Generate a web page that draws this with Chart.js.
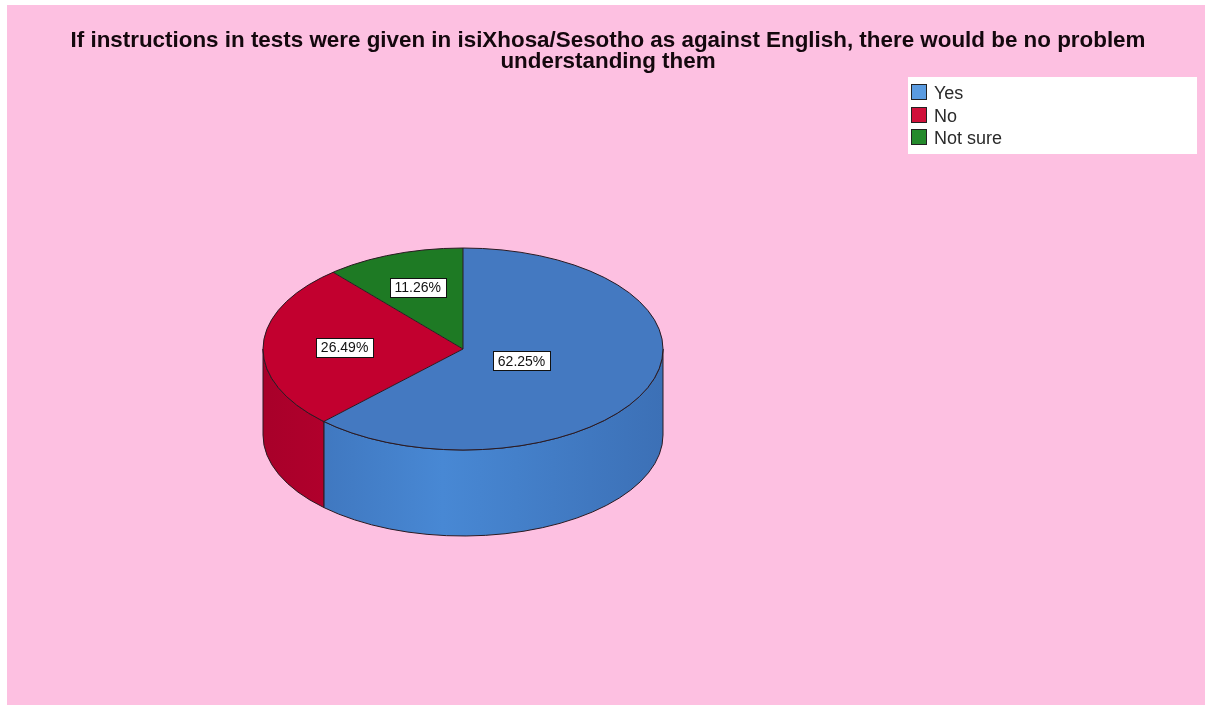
<!DOCTYPE html>
<html>
<head>
<meta charset="utf-8">
<title>Test instructions in isiXhosa/Sesotho</title>
<script src="https://cdn.jsdelivr.net/npm/chart.js@4.4.1/dist/chart.umd.min.js"></script>
<style>
  html, body { margin: 0; padding: 0; background: #ffffff; }
  canvas { display: block; }
</style>
</head>
<body>
<canvas id="chart" width="1205" height="705"></canvas>
<script>
// Survey answers (respondent counts)
const categories = ['Yes', 'No', 'Not sure'];
const counts = [94, 40, 17];
const titleLines = [
  'If instructions in tests were given in isiXhosa/Sesotho as against English, there would be no problem',
  'understanding them'
];

// Slice colours: top face, side face (dark / light), legend swatch
const topColors = ['#4479C1', '#C2002F', '#1E7A24'];
const sideDark = ['#3C70B6', '#A8002A', '#17651D'];
const sideLight = ['#4888D4', '#C0002F', '#1F8027'];
const swatchColors = ['#5A9BE0', '#D0103A', '#248A2C'];

const PAGE_BG = '#FDC0E1';
const TILT = 101 / 200;   // vertical squash of the pie top (ellipse ry / rx)
const DEPTH = 86;         // thickness of the pie, px
const FONT = '"Liberation Sans", Arial, sans-serif';

const total = counts.reduce((a, b) => a + b, 0);
const pctText = v => (v / total * 100).toFixed(2) + '%';

function pieGeometry(chart) {
  const els = chart.getDatasetMeta(0).data;
  const { x, y, outerRadius } = els[0].getProps(['x', 'y', 'outerRadius'], true);
  return { els, cx: x, cy: y, rx: outerRadius, ry: outerRadius * TILT };
}

const pageBackground = {
  id: 'pageBackground',
  beforeDraw(chart) {
    const ctx = chart.ctx;
    ctx.save();
    ctx.fillStyle = PAGE_BG;
    ctx.fillRect(7, 5, chart.width - 7, chart.height - 5);
    ctx.restore();
  }
};

// Extruded pie: draws the visible side walls, squashes the library's arcs into an ellipse,
// then adds outlines and percentage labels.
const pie3d = {
  id: 'pie3d',
  beforeDatasetsDraw(chart) {
    const ctx = chart.ctx;
    const { els, cx, cy, rx, ry } = pieGeometry(chart);
    ctx.save();
    ctx.lineWidth = 1;
    ctx.strokeStyle = '#2a1a22';
    els.forEach((el, i) => {
      const { startAngle, endAngle } = el.getProps(['startAngle', 'endAngle'], true);
      for (const off of [-2 * Math.PI, 0, 2 * Math.PI]) {
        const a1 = Math.max(startAngle, off);
        const a2 = Math.min(endAngle, off + Math.PI);
        if (a2 <= a1) continue;
        const g = ctx.createLinearGradient(cx - rx, 0, cx + rx, 0);
        g.addColorStop(0, sideDark[i]);
        g.addColorStop(0.45, sideLight[i]);
        g.addColorStop(1, sideDark[i]);
        ctx.beginPath();
        ctx.ellipse(cx, cy, rx, ry, 0, a1, a2, false);
        ctx.ellipse(cx, cy + DEPTH, rx, ry, 0, a2, a1, true);
        ctx.closePath();
        ctx.fillStyle = g;
        ctx.fill();
        ctx.stroke();
      }
    });
    ctx.restore();
    ctx.save();
    ctx.translate(cx, cy);
    ctx.scale(1, TILT);
    ctx.translate(-cx, -cy);
  },
  afterDatasetsDraw(chart) {
    const ctx = chart.ctx;
    ctx.restore();
    const { els, cx, cy, rx, ry } = pieGeometry(chart);
    ctx.save();
    ctx.lineWidth = 1;
    ctx.strokeStyle = '#2a1a22';
    ctx.beginPath();
    ctx.ellipse(cx, cy, rx, ry, 0, 0, Math.PI * 2);
    ctx.stroke();
    els.forEach(el => {
      const a = el.getProps(['startAngle'], true).startAngle;
      ctx.beginPath();
      ctx.moveTo(cx, cy);
      ctx.lineTo(cx + rx * Math.cos(a), cy + ry * Math.sin(a));
      ctx.stroke();
    });

    // value labels at each sector's centroid
    ctx.font = '14px ' + FONT;
    ctx.textAlign = 'center';
    ctx.textBaseline = 'middle';
    els.forEach((el, i) => {
      const { startAngle, endAngle } = el.getProps(['startAngle', 'endAngle'], true);
      const sweep = endAngle - startAngle;
      const mid = (startAngle + endAngle) / 2;
      const d = 4 * rx * Math.sin(sweep / 2) / (3 * sweep);
      const lx = cx + d * Math.cos(mid);
      const ly = cy + d * Math.sin(mid) * TILT;
      const txt = pctText(counts[i]);
      const w = ctx.measureText(txt).width + 10;
      const h = 19;
      ctx.fillStyle = '#ffffff';
      ctx.fillRect(Math.round(lx - w / 2) + 0.5, Math.round(ly - h / 2) + 0.5, Math.round(w), h);
      ctx.strokeStyle = '#111111';
      ctx.strokeRect(Math.round(lx - w / 2) + 0.5, Math.round(ly - h / 2) + 0.5, Math.round(w), h);
      ctx.fillStyle = '#111111';
      ctx.fillText(txt, lx, ly + 1);
    });
    ctx.restore();
  }
};

const titleAndLegend = {
  id: 'titleAndLegend',
  afterDraw(chart) {
    const ctx = chart.ctx;
    ctx.save();
    // title
    ctx.fillStyle = '#14080e';
    ctx.font = 'bold 22.4px ' + FONT;
    ctx.textAlign = 'center';
    ctx.textBaseline = 'alphabetic';
    titleLines.forEach((line, i) => ctx.fillText(line, 608, 47 + i * 21));

    // legend
    ctx.fillStyle = '#ffffff';
    ctx.fillRect(908, 77, 289, 77);
    ctx.font = '18px ' + FONT;
    ctx.textAlign = 'left';
    categories.forEach((name, i) => {
      const base = 99 + i * 22.5;
      ctx.fillStyle = swatchColors[i];
      ctx.fillRect(911.5, Math.round(base - 15) + 0.5, 15, 15);
      ctx.strokeStyle = '#222222';
      ctx.lineWidth = 1;
      ctx.strokeRect(911.5, Math.round(base - 15) + 0.5, 15, 15);
      ctx.fillStyle = '#2a2a2a';
      ctx.fillText(name, 934, base);
    });
    ctx.restore();
  }
};

new Chart(document.getElementById('chart'), {
  type: 'pie',
  data: {
    labels: categories,
    datasets: [{
      data: counts,
      backgroundColor: topColors,
      borderWidth: 0
    }]
  },
  options: {
    responsive: false,
    animation: false,
    events: [],
    layout: { padding: { left: 263, right: 542, top: 149, bottom: 156 } },
    plugins: {
      legend: { display: false },
      title: { display: false },
      tooltip: { enabled: false }
    }
  },
  plugins: [pageBackground, pie3d, titleAndLegend]
});
</script>
</body>
</html>
